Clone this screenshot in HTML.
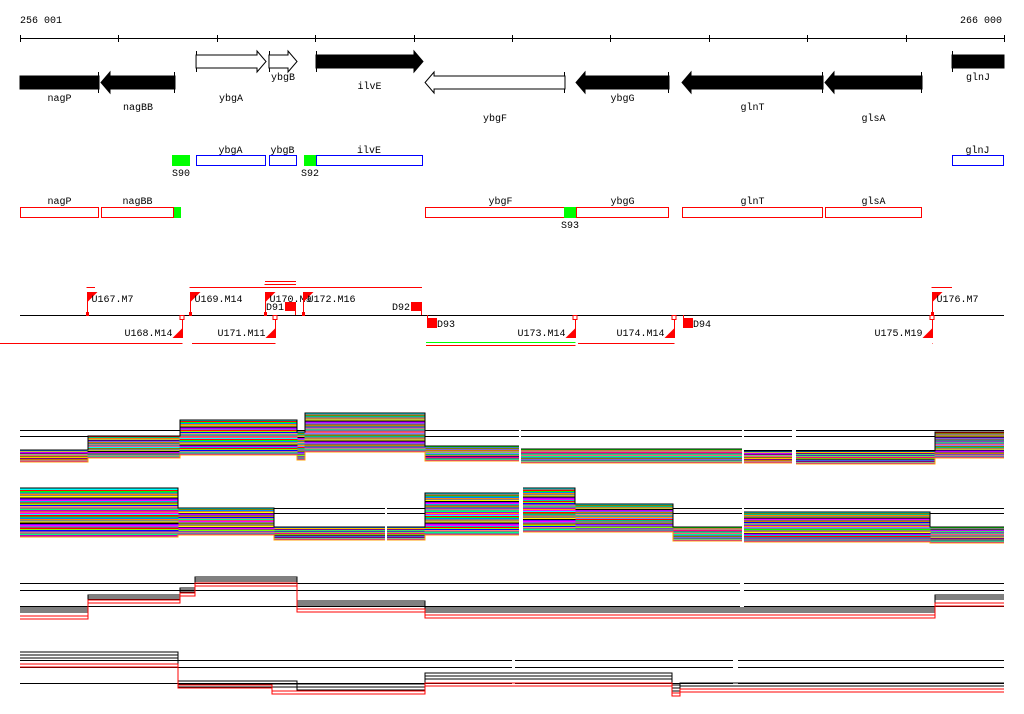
<!DOCTYPE html>
<html><head><meta charset="utf-8"><style>
html,body{margin:0;padding:0;background:#fff;width:1024px;height:714px;overflow:hidden}
svg text{font-family:"Liberation Mono","DejaVu Sans Mono",monospace;font-size:10px;fill:#000}
svg path,svg line,svg rect{shape-rendering:crispEdges}
</style></head><body>
<svg id="chart" width="1024" height="714" xmlns="http://www.w3.org/2000/svg"></svg>
<script>
// ---- data ----
const rangeStart = 256001, rangeEnd = 266000;
const tickLabels = ["256 001", "266 000"];
const tickPositions = [256001,257001,258001,259001,260001,261001,262001,263001,264001,265001,266000];
const geneNames = ["nagP","nagBB","ybgA","ybgB","ilvE","ybgF","ybgG","glnT","glsA","glnJ"];
const geneStarts = [256001,256824,257790,258531,259009,260117,261651,262728,264181,265472];
const geneEnds   = [256804,257576,258501,258816,260096,261539,262596,264161,265167,266000];
const geneStrand = [-1,-1,1,1,1,-1,-1,-1,-1,1];
const geneFilled = [1,1,0,0,1,0,1,1,1,1];
const geneLabelY = [101,110,101,80,89,121,101,110,121,80];
const blueNames=["ybgA","ybgB","ilvE","glnJ"];
const blueStarts=[257790,258531,259009,265472];
const blueEnds=[258491,258806,260086,265990];
const redNames=["nagP","nagBB","ybgF","ybgG","glnT","glsA"];
const redStarts=[256001,256824,260117,261651,262728,264181];
const redEnds=[256804,257566,261651,262596,264161,265167];
const siteNames=["S90","S92","S93",""];
const siteStarts=[257546,258887,261529,257566];
const siteEnds=[257729,259009,261651,257637];
const siteRow=[0,0,1,1];
const upNames=["U167.M7","U169.M14","U170.M9","U172.M16","U176.M7"];
const upPos=[256682,257729,258491,258877,265269];
const upLineEnd=[256763,260086,258806,260086,265472];
const upLineY=[287,287,284,287,287];
const dnNames=["U168.M14","U171.M11","U173.M14","U174.M14","U175.M19"];
const dnPos=[257647,258592,261641,262647,265269];
const dnLineStart=[255800,257749,260127,261672,265269];
const dNames=["D91","D92","D93","D94"];
const dPos=[258694,259974,260137,262738];
const dUp=[1,1,0,0];
const p1Seg=[[20,88,450,462],[88,180,436,458],[180,297,420,455],[297,305,432,460],[305,425,413,452],[425,519,446,461],[521,742,449,463],[744,792,451,463],[796,935,451,464],[935,1004,432,458]];
const p2Seg=[[20,178,488,537],[178,274,508,535],[274,385,527,540],[387,425,527,540],[425,519,493,535],[523,575,488,532],[575,673,504,532],[673,742,527,541],[744,930,512,542],[930,1004,527,543]];
const p1Ref=[430,436,450];
const p2Ref=[508,513,528];
const p3Ref=[583,590,606];
const p4Ref=[660,667,683];
const p3Black=[[20,88,610],[88,180,597],[180,195,590],[195,297,579],[297,425,603],[425,935,610],[935,1004,597]];
const p3Red=[[20,88,616],[88,180,600],[180,195,593],[195,297,583],[297,425,609],[425,935,615],[935,1004,603]];
const p4Black=[[20,178,655],[178,297,684],[297,425,687],[425,672,676],[672,680,688],[680,1004,686]];
const p4Red=[[20,178,665],[178,272,686],[272,425,692],[425,672,684],[672,680,694],[680,1004,690]];
const bandColors=["#ff00ff","#00ffff","#ff0000","#00ff00","#0080ff","#ff8000","#808080","#ffff00","#000000","#8000ff","#ff00ff","#00c0c0","#ff0000","#80ff00","#0000ff","#ff8080","#808080","#00ff80","#c000c0","#ffa000"];

// ---- rendering ----
const svg=document.getElementById('chart');
const NS="http://www.w3.org/2000/svg";
const X0=20,X1=1004;
function sx(bp){return X0+(bp-rangeStart)*(X1-X0)/(rangeEnd-rangeStart);}
function mk(tag,attrs,parent){const e=document.createElementNS(NS,tag);for(const k in attrs)e.setAttribute(k,attrs[k]);(parent||svg).appendChild(e);return e;}
function txt(s,x,y,anchor,parent){const t=mk('text',{x:x,y:y,'text-anchor':anchor||'middle'},parent);t.textContent=s;return t;}

const ax=mk('g',{});


mk('line',{x1:X0,y1:38.5,x2:X1,y2:38.5,stroke:'#000'},ax);
tickPositions.forEach(p=>{const x=Math.round(sx(p))+0.5;mk('line',{x1:x,y1:35,x2:x,y2:42,stroke:'#000'},ax);});
txt(tickLabels[0],20,23,'start',ax);
txt(tickLabels[1],1002,23,'end',ax);

geneNames.forEach((n,i)=>{
  const g=mk('g',{});
  
  
  const a=sx(geneStarts[i]),b=sx(geneEnds[i]);
  const top=geneStrand[i]>0?55:76, h=13, hd=9;
  let pts;
  const hasHead=!(n==='nagP'||n==='glnJ');
  if(geneStrand[i]>0){
    const hx=b-hd;
    pts=hasHead?[[a,top],[hx,top],[hx,top-4],[b,top+h/2],[hx,top+h+4],[hx,top+h],[a,top+h]]:[[a,top],[b,top],[b,top+h],[a,top+h]];
    mk('line',{x1:a+0.5,y1:top-4,x2:a+0.5,y2:top+h+4,stroke:'#000'},g);
  }else{
    const hx=a+hd;
    pts=hasHead?[[b,top],[hx,top],[hx,top-4],[a,top+h/2],[hx,top+h+4],[hx,top+h],[b,top+h]]:[[a,top],[b,top],[b,top+h],[a,top+h]];
    mk('line',{x1:b-0.5,y1:top-4,x2:b-0.5,y2:top+h+4,stroke:'#000'},g);
  }
  mk('polygon',{points:pts.map(p=>p.join(',')).join(' '),fill:geneFilled[i]?'#000':'#fff',stroke:'#000','stroke-width':1},g);
  txt(n,(a+b)/2,geneLabelY[i],'middle',g);
});

blueNames.forEach((n,i)=>{
  const g=mk('g',{});
  
  
  const a=sx(blueStarts[i]),b=sx(blueEnds[i]);
  mk('rect',{x:a+0.5,y:155.5,width:b-a,height:10,fill:'#fff',stroke:'#0000ff'},g);
  txt(n,(a+b)/2,153,'middle',g);
});
redNames.forEach((n,i)=>{
  const g=mk('g',{});
  
  
  const a=sx(redStarts[i]),b=sx(redEnds[i]);
  mk('rect',{x:a+0.5,y:207.5,width:b-a-1,height:10,fill:'#fff',stroke:'#ff0000'},g);
  txt(n,(a+b)/2,204,'middle',g);
});
siteNames.forEach((n,i)=>{
  const g=mk('g',{});
  
  
  const a=sx(siteStarts[i]),b=sx(siteEnds[i]);
  const y=siteRow[i]?207:155;
  mk('rect',{x:a,y:y,width:b-a,height:11,fill:'#00ff00'},g);
  if(n)txt(n,(a+b)/2,y+21,'middle',g);
});

const ft=mk('g',{});


mk('line',{x1:20,y1:315.5,x2:1004,y2:315.5,stroke:'#000'},ft);
upNames.forEach((n,i)=>{
  const g=mk('g',{});
  
  
  const x=Math.round(sx(upPos[i]))+0.5;
  mk('line',{x1:x,y1:292,x2:x,y2:315,stroke:'#f00'},g);
  mk('polygon',{points:`${x},292 ${x+10},292 ${x},302`,fill:'#f00'},g);
  mk('rect',{x:x-1.5,y:312,width:3,height:4,fill:'#f00'},g);
  mk('line',{x1:x-1,y1:upLineY[i]+0.5,x2:sx(upLineEnd[i]),y2:upLineY[i]+0.5,stroke:'#f00'},g);
  txt(n,x+4,302,'start',g);
});
mk('line',{x1:265,y1:281.5,x2:296,y2:281.5,stroke:'#f00'},ft);
dnNames.forEach((n,i)=>{
  const g=mk('g',{});
  
  
  const x=Math.round(sx(dnPos[i]))+0.5;
  mk('line',{x1:x,y1:315,x2:x,y2:338,stroke:'#f00'},g);
  mk('polygon',{points:`${x},328 ${x},338 ${x-10},338`,fill:'#f00'},g);
  mk('rect',{x:x-2.5,y:315.5,width:4,height:4,fill:'#fff',stroke:'#f00'},g);
  if(n==='U173.M14'){
    mk('line',{x1:sx(dnLineStart[i]),y1:342.5,x2:x,y2:342.5,stroke:'#00ff00'},g);
    mk('line',{x1:sx(dnLineStart[i]),y1:345.5,x2:x,y2:345.5,stroke:'#f00'},g);
  }else{
    mk('line',{x1:Math.max(0,sx(dnLineStart[i])),y1:343.5,x2:x,y2:343.5,stroke:'#f00'},g);
  }
  txt(n,x-10,336,'end',g);
});
dNames.forEach((n,i)=>{
  const g=mk('g',{});
  
  
  const x=sx(dPos[i]);
  if(dUp[i]){
    mk('rect',{x:x,y:302,width:10,height:9,fill:'#f00'},g);
    mk('line',{x1:x+10.5,y1:302,x2:x+10.5,y2:315,stroke:'#f00'},g);
    txt(n,x-1,310,'end',g);
  }else{
    mk('rect',{x:x,y:318,width:10,height:10,fill:'#f00'},g);
    mk('line',{x1:x+0.5,y1:315,x2:x+0.5,y2:320,stroke:'#f00'},g);
    txt(n,x+10,327,'start',g);
  }
});

function refLines(arr,name,segs){
  const g=mk('g',{});
  
  
  arr.forEach(y=>segs.forEach(s=>mk('line',{x1:s[0],y1:y+0.5,x2:s[1],y2:y+0.5,stroke:'#000'},g)));
}
function band(segs,name){
  const g=mk('g',{});
  
  
  const n=bandColors.length*2;
  for(let k=0;k<n;k++){
    let d='';
    segs.forEach((s,j)=>{
      const y=s[2]+(s[3]-s[2])*k/(n-1);
      d+=(j===0||segs[j-1][1]!==s[0]?'M':'L')+s[0]+','+y.toFixed(1)+'L'+s[1]+','+y.toFixed(1);
    });
    mk('path',{d:d,fill:'none',stroke:bandColors[k%bandColors.length],'stroke-width':1.3},g);
  }
  let d='';
  segs.forEach((s,j)=>{d+=(j===0||segs[j-1][1]!==s[0]?'M':'L')+s[0]+','+s[2]+'L'+s[1]+','+s[2];});
  mk('path',{d:d,fill:'none',stroke:'#000'},g);
}
function lines(segs,color,offs,name){
  const g=mk('g',{});
  
  
  offs.forEach(o=>{
    let d='';
    segs.forEach((s,j)=>{d+=(j===0?'M':'L')+s[0]+','+(s[2]+o)+'L'+s[1]+','+(s[2]+o);});
    mk('path',{d:d,fill:'none',stroke:color,'stroke-width':1},g);
  });
}
refLines(p1Ref,'panel1',[[20,519],[521,742],[744,792],[796,1004]]);
band(p1Seg,'panel1-expression-lines');
refLines(p2Ref,'panel2',[[20,385],[387,519],[523,742],[744,1004]]);
band(p2Seg,'panel2-expression-lines');
refLines(p3Ref,'panel3',[[20,740],[744,1004]]);
lines(p3Black,'#000',[-2,0,2],'panel3-black-lines');
lines(p3Red,'#f00',[0,3],'panel3-red-lines');
refLines(p4Ref,'panel4',[[20,512],[515,733],[738,1004]]);
lines(p4Black,'#000',[-3,0,3],'panel4-black-lines');
lines(p4Red,'#f00',[-1,2],'panel4-red-lines');
</script>
</body></html>
